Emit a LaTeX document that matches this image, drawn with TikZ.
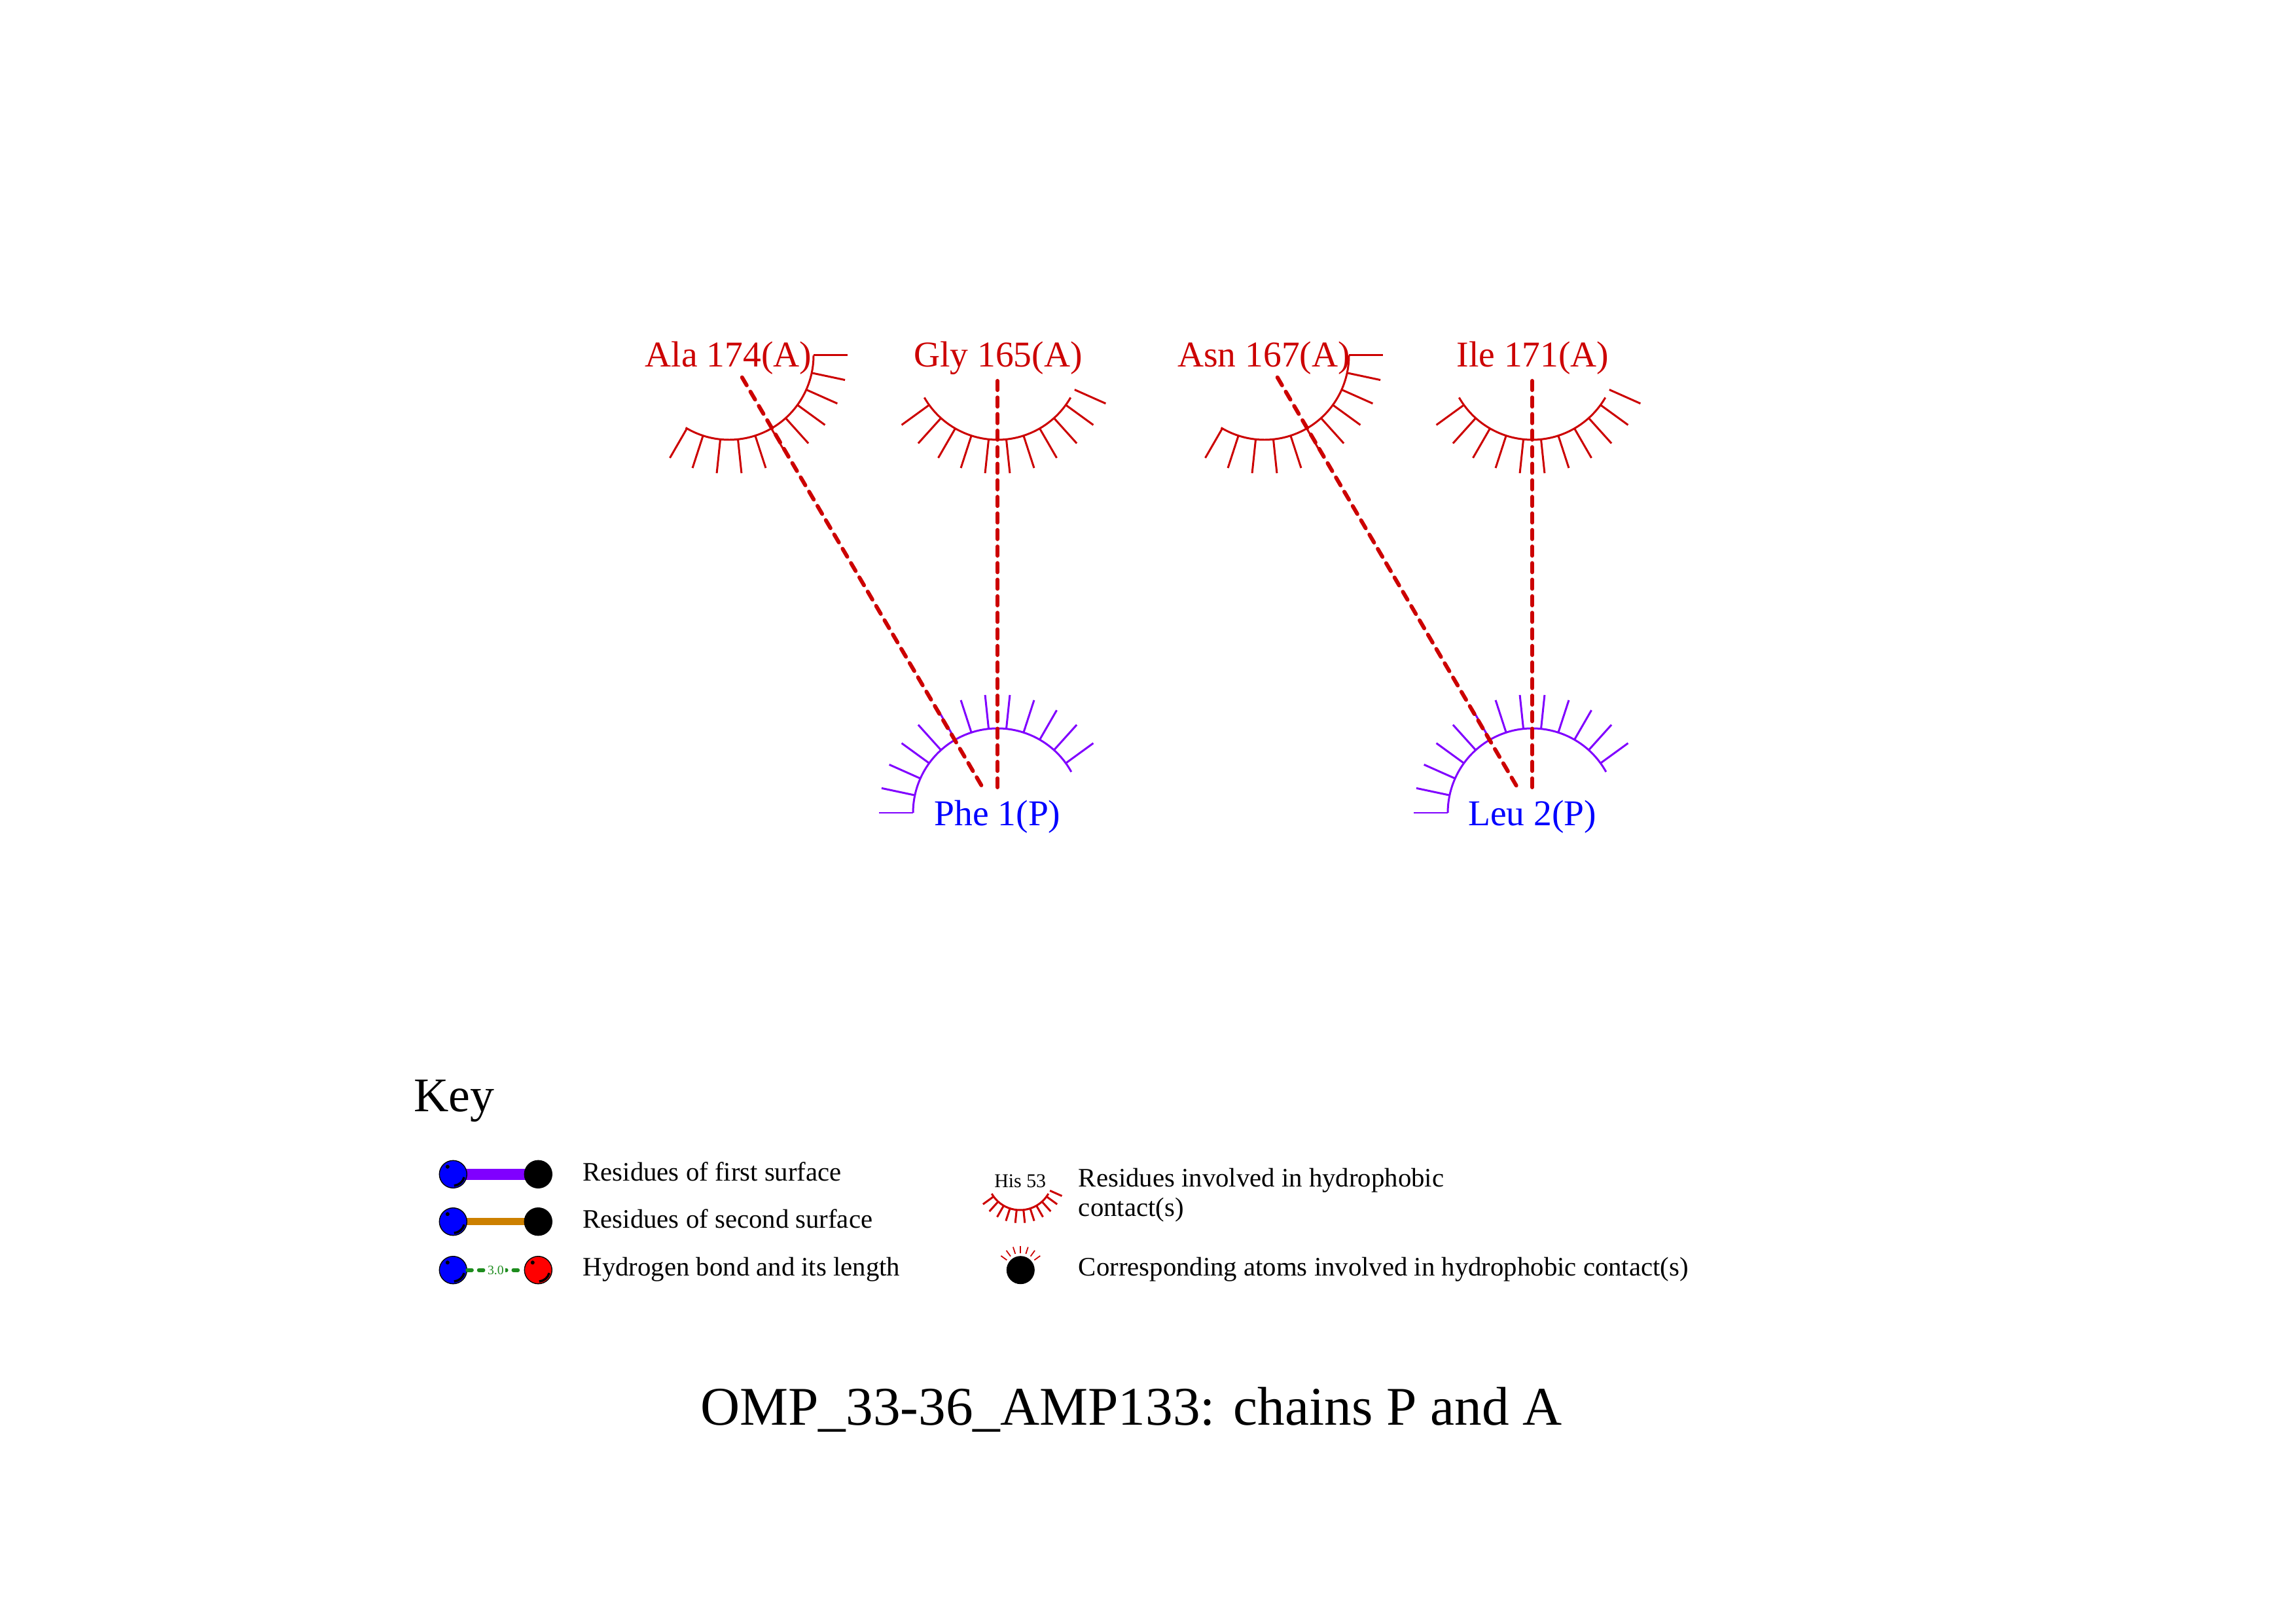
\documentclass[tikz,border=0pt]{standalone}
\usepackage{fontspec}
\setmainfont{Liberation Serif}
\usetikzlibrary{backgrounds}
\definecolor{ligred}{RGB}{204,0,0}
\definecolor{surfviolet}{RGB}{128,0,255}
\definecolor{resblue}{RGB}{0,0,255}
\definecolor{surforange}{RGB}{204,128,0}
\definecolor{hbgreen}{RGB}{30,140,30}
\tikzset{
  labA/.style={anchor=base, inner sep=0pt, text=ligred, font=\fontsize{15.8}{19}\selectfont},
  labP/.style={anchor=base, inner sep=0pt, text=resblue, font=\fontsize{15.8}{19}\selectfont},
  lashA/.style={draw=ligred, line width=0.85pt},
  lashP/.style={draw=surfviolet, line width=0.85pt},
  contact/.style={draw=ligred, line width=1.7pt, line cap=round, dash pattern=on 4pt off 3.2pt,
    shorten <=0.39cm, shorten >=0.39cm},
  keytext/.style={anchor=base west, inner sep=0pt, font=\fontsize{11.6}{14}\selectfont},
  ball/.style={circle, draw=black, line width=0.4pt, minimum size=0.42cm, inner sep=0pt},
}

\begin{document}
\begin{tikzpicture}
\useasboundingbox (0,0) rectangle (35.08,24.79);

% residue centres
\coordinate (ala) at (11.14,19.36);
\coordinate (gly) at (15.24,19.36);
\coordinate (asn) at (19.32,19.36);
\coordinate (ile) at (23.41,19.36);
\coordinate (phe) at (15.24,12.37);
\coordinate (leu) at (23.41,12.37);

\node[labA] (ala-lbl) at (11.13,19.18) {Ala 174(A)};
\node[labA] (gly-lbl) at (15.25,19.18) {Gly 165(A)};
\node[labA] (asn-lbl) at (19.31,19.18) {Asn 167(A)};
\node[labA] (ile-lbl) at (23.42,19.18) {Ile 171(A)};
\node[labP] (phe-lbl) at (15.24,12.173) {Phe 1(P)};
\node[labP] (leu-lbl) at (23.41,12.173) {Leu 2(P)};

% eyelashes, chain A
\foreach \res/\as/\ae/\sa in {ala/239/360/240, gly/210/330/216, asn/239/360/240, ile/210/330/216}{
  \draw[lashA] (\res) ++(\as:1.29) arc[start angle=\as, end angle=\ae, radius=1.29];
  \foreach \k in {0,...,10}
    \draw[lashA] (\res) ++(\sa+12*\k:1.29) -- ++(\sa+12*\k:0.52);
}

% eyelashes, chain P
\foreach \res in {phe,leu}{
  \draw[lashP] (\res) ++(29:1.29) arc[start angle=29, end angle=180, radius=1.29];
  \foreach \k in {0,...,12}
    \draw[lashP] (\res) ++(36+12*\k:1.29) -- ++(36+12*\k:0.52);
}

% hydrophobic contacts
\draw[contact] (ala) -- (phe);
\draw[contact] (gly) -- (phe);
\draw[contact] (asn) -- (leu);
\draw[contact] (ile) -- (leu);

% Key
\node[anchor=base west, inner sep=0pt, font=\fontsize{21}{25}\selectfont] (key) at (6.316,7.807) {Key};

\node[ball, fill=resblue] (kb1) at (6.923,6.847) {};
\node[ball, fill=black] (kk1) at (8.223,6.847) {};
\node[ball, fill=resblue] (kb2) at (6.923,6.123) {};
\node[ball, fill=black] (kk2) at (8.223,6.123) {};
\node[ball, fill=resblue] (kb3) at (6.923,5.383) {};
\node[ball, fill=red] (kr3) at (8.223,5.383) {};
\begin{scope}[on background layer]
  \draw[surfviolet, line width=4.7pt] (kb1.center) -- (kk1.center);
  \draw[surforange, line width=3.1pt] (kb2.center) -- (kk2.center);
\end{scope}
\draw[hbgreen, line width=1.6pt, line cap=round, dash pattern=on 2pt off 3pt] (kb3) --
  node[fill=white, text=hbgreen, inner sep=0.6pt, font=\fontsize{5.6}{6}\selectfont] (k3-len) {3.0} (kr3);
\foreach \b in {kb1,kb2,kb3,kr3}{
  \fill ([shift={(-0.085,0.115)}]\b.center) circle (0.03);
  \draw[line width=1pt] ([shift={(-15:0.175)}]\b.center) arc[start angle=-15, end angle=-85, radius=0.175];
}

\node[keytext] (k1-txt) at (8.899,6.75) {Residues of first surface};
\node[keytext] (k2-txt) at (8.899,6.023) {Residues of second surface};
\node[keytext] (k3-txt) at (8.899,5.295) {Hydrogen bond and its length};

\coordinate (kl) at (15.585,6.80);
\node[anchor=base, inner sep=0pt, font=\fontsize{8.5}{10}\selectfont] (kl-lbl) at (15.587,6.647) {His 53};
\draw[lashA] (kl) ++(210:0.5) arc[start angle=210, end angle=330, radius=0.5];
\foreach \k in {0,...,10}
  \draw[lashA] (kl) ++(216+12*\k:0.5) -- ++(216+12*\k:0.2);

\node[circle, fill=black, minimum size=0.43cm, inner sep=0pt] (katom) at (15.593,5.383) {};
\foreach \a in {36,54,...,144}
  \draw[ligred, line width=0.5pt] (katom.center) ++(\a:0.26) -- ++(\a:0.11);

\node[keytext] (k4-txt) at (16.472,6.657) {Residues involved in hydrophobic};
\node[keytext] (k4-txt2) at (16.472,6.207) {contact(s)};
\node[keytext] (k5-txt) at (16.472,5.295) {Corresponding atoms involved in hydrophobic contact(s)};

% title
\node[anchor=base, inner sep=0pt, font=\fontsize{23.7}{28}\selectfont] (title) at (17.285,3.02)
  {OMP\_33-36\_AMP133: chains P and A};

\end{tikzpicture}
\end{document}
